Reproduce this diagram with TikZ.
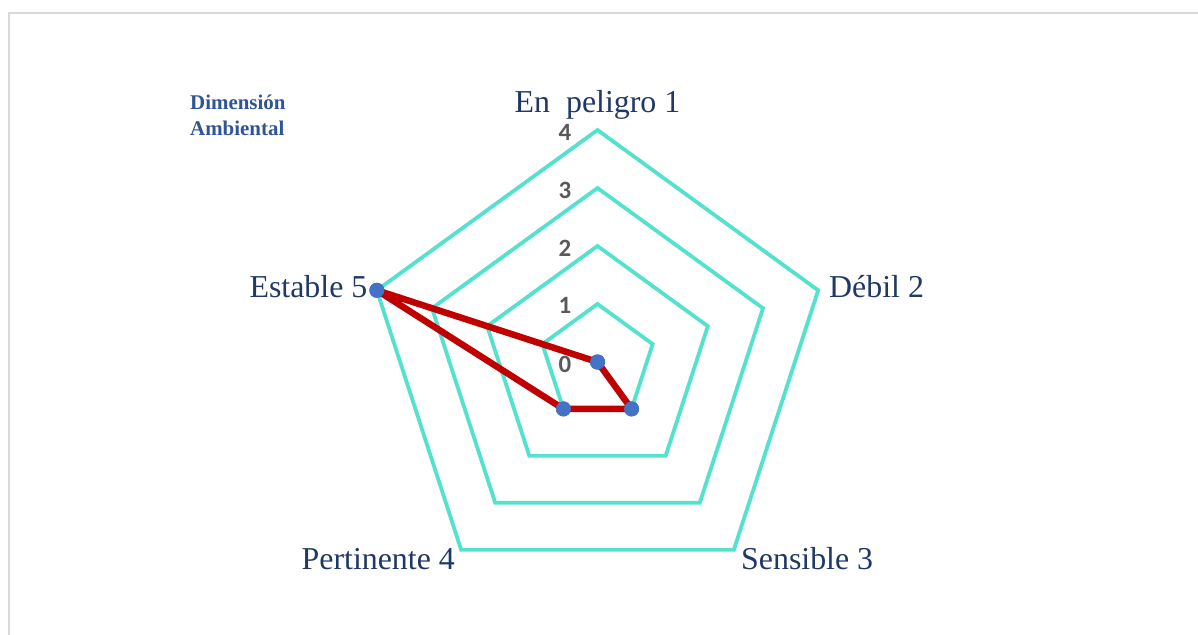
\documentclass[tikz,border=0pt]{standalone}
\usepackage{fontspec}
\setmainfont{Liberation Serif}
\newfontfamily\numfont{Carlito}
\definecolor{gridcol}{RGB}{84,226,206}
\definecolor{datared}{RGB}{192,0,0}
\definecolor{markblue}{RGB}{68,114,196}
\definecolor{labnavy}{RGB}{31,56,100}
\definecolor{titleblue}{RGB}{47,85,151}
\definecolor{numgray}{RGB}{89,89,89}
\definecolor{framegray}{RGB}{217,217,217}
\begin{document}
\begin{tikzpicture}[x=1bp,y=-1bp,
  gridline/.style={draw=gridcol,line width=3.8bp,line join=miter},
  dataline/.style={draw=datared,line width=6.5bp,line join=round},
  marker/.style={circle,fill=markblue,draw=none,minimum size=15bp,inner sep=0pt},
  axislabel/.style={text=labnavy,inner sep=0pt,font=\fontsize{32}{36}\selectfont},
  levellabel/.style={text=numgray,inner sep=0pt,font=\numfont\bfseries\fontsize{25}{25}\selectfont},
  titletext/.style={text=titleblue,inner sep=0pt,font=\bfseries\fontsize{21}{25}\selectfont,anchor=base west},
  frameline/.style={draw=framegray,line width=2bp}]
\useasboundingbox (0,0) rectangle (1198,635);
% frame
\draw[frameline] (9,635) -- (9,13) -- (1198,13);
% grid coordinates
\foreach \lv in {1,2,3,4}{
  \foreach \i in {0,...,4}{
    \coordinate (g\lv-\i) at ({597.5+58*\lv*cos(90-72*\i)},{362-58*\lv*sin(90-72*\i)});
  }
}
\foreach \lv in {1,2,3,4}{
  \draw[gridline] (g\lv-0) -- (g\lv-1) -- (g\lv-2) -- (g\lv-3) -- (g\lv-4) -- cycle;
}
% data points (values 0,0,1,1,4)
\coordinate (c0) at (597.5,362);
\node[marker] (d0) at (c0) {};
\node[marker] (d1) at (c0) {};
\node[marker] (d2) at (g1-2) {};
\node[marker] (d3) at (g1-3) {};
\node[marker] (d4) at (g4-4) {};
\draw[dataline] (d4.center) -- (d0.center) -- (d1.center) -- (d2.center) -- (d3.center) -- cycle;
\node[marker] at (d0) {};
\node[marker] at (d2) {};
\node[marker] at (d3) {};
\node[marker] at (d4) {};
% level labels
\node[levellabel] (n4) at (565,132.5) {4};
\node[levellabel] (n3) at (565,190.5) {3};
\node[levellabel] (n2) at (565,248) {2};
\node[levellabel] (n1) at (565,305.5) {1};
\node[levellabel] (n0) at (565,364) {0};
% axis labels
\node[axislabel,anchor=base] (lab0) at (597.5,112.5) {En\ \ peligro 1};
\node[axislabel,anchor=base west] (lab1) at (829,297.5) {Débil 2};
\node[axislabel,anchor=base west] (lab2) at (741,569) {Sensible 3};
\node[axislabel,anchor=base east] (lab3) at (455,569) {Pertinente 4};
\node[axislabel,anchor=base east] (lab4) at (367.5,297.5) {Estable 5};
% title
\node[titletext] (t1) at (190,110) {Dimensión};
\node[titletext] (t2) at (190,135.5) {Ambiental};
\end{tikzpicture}
\end{document}
